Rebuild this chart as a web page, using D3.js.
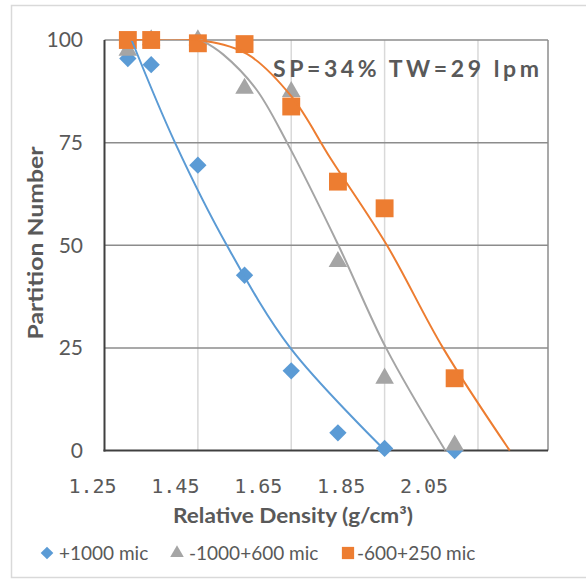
<!DOCTYPE html>
<html>
<head>
<meta charset="utf-8">
<script src="https://cdn.jsdelivr.net/npm/d3@7"></script>
<style>
  body { margin: 0; background: #fff; }
  svg { display: block; }
</style>
</head>
<body>
<svg width="586" height="580"></svg>
<script>
// data
const density = [1.30, 1.35, 1.45, 1.55, 1.65, 1.75, 1.85, 2.00];
const plus1000 = [95.5, 94, 69.5, 42.7, 19.4, 4.3, 0.5, 0];
const minus1000plus600 = [97.5, 100, 100, 88.2, 87.4, 46, 17.6, 1.3];
const minus600plus250 = [100, 100, 99.2, 99, 83.8, 65.5, 59, 17.6];

// trendline points [density, partition]
const trendBlue = [[1.308, 100], [1.401, 75], [1.512, 50], [1.648, 25], [1.851, 0]];
const trendGray = [[1.45, 100.5], [1.504, 96.5], [1.575, 88], [1.641, 75], [1.751, 50], [1.853, 25], [1.98, 0]];
const trendOrange = [[1.307, 100], [1.451, 100], [1.555, 96.6], [1.65, 86.3], [1.735, 71], [1.855, 50], [1.975, 25], [2.118, 0]];

const xTicks = [1.25, 1.45, 1.65, 1.85, 2.05];
const yTicks = [0, 25, 50, 75, 100];
const seriesNames = ["+1000 mic", "-1000+600 mic", "-600+250 mic"];
const colors = ["#5B9BD5", "#A5A5A5", "#ED7D31"];

const svg = d3.select("svg");

// outer chart border
svg.append("rect")
    .attr("x", 11.5).attr("y", 5.5)
    .attr("width", 600).attr("height", 572)
    .attr("fill", "none")
    .attr("stroke", "#d9d9d9")
    .attr("stroke-width", 1.5);

const x = d3.scaleLinear().domain([1.25, 2.2]).range([104.5, 548]);
const y = d3.scaleLinear().domain([0, 100]).range([450.5, 40]);
// tick labels sit a little left of their gridlines in the original
const xLab = d3.scaleLinear().domain([1.25, 2.05]).range([92.5, 424]);

// plot clip so trendlines stay inside
svg.append("clipPath").attr("id", "plot")
    .append("rect")
    .attr("x", x(1.25)).attr("y", y(100) - 1)
    .attr("width", x(2.2) - x(1.25)).attr("height", y(0) - y(100) + 2);

// vertical gridlines
svg.append("g")
    .selectAll("line")
    .data(xTicks.slice(1))
    .join("line")
    .attr("x1", d => x(d)).attr("x2", d => x(d))
    .attr("y1", y(100)).attr("y2", y(0))
    .attr("stroke", "#d9d9d9")
    .attr("stroke-width", 1.5);

// horizontal gridlines
svg.append("g")
    .selectAll("line")
    .data(yTicks.slice(1))
    .join("line")
    .attr("x1", x(1.25)).attr("x2", x(2.2))
    .attr("y1", d => y(d)).attr("y2", d => y(d))
    .attr("stroke", "#8c8c8c")
    .attr("stroke-width", 1.5);

// right border of plot
svg.append("line")
    .attr("x1", x(2.2)).attr("x2", x(2.2))
    .attr("y1", y(100)).attr("y2", y(0))
    .attr("stroke", "#8c8c8c")
    .attr("stroke-width", 1.5);

// axes lines
svg.append("line")
    .attr("x1", x(1.25)).attr("x2", x(1.25))
    .attr("y1", y(100)).attr("y2", y(0) + 1)
    .attr("stroke", "#404040").attr("stroke-width", 2);
svg.append("line")
    .attr("x1", x(1.25) - 1).attr("x2", x(2.2))
    .attr("y1", y(0)).attr("y2", y(0))
    .attr("stroke", "#404040").attr("stroke-width", 2);

// y tick labels
svg.append("g")
    .selectAll("text")
    .data(yTicks)
    .join("text")
    .attr("x", 83)
    .attr("y", d => y(d))
    .attr("dy", "0.35em")
    .attr("text-anchor", "end")
    .attr("font-family", "Lato, 'Open Sans', sans-serif")
    .attr("font-size", 21)
    .attr("fill", "#595959")
    .text(d => d);

// x tick labels
svg.append("g")
    .selectAll("text")
    .data(xTicks)
    .join("text")
    .attr("x", d => xLab(d))
    .attr("y", 493)
    .attr("text-anchor", "middle")
    .attr("font-family", "'DejaVu Sans Mono', monospace")
    .attr("font-size", 20)
    .attr("fill", "#595959")
    .text(d => d.toFixed(2));

// axis titles
svg.append("text")
    .attr("x", 293).attr("y", 523)
    .attr("text-anchor", "middle")
    .attr("font-family", "Lato, 'Open Sans', sans-serif")
    .attr("font-weight", "bold")
    .attr("font-size", 20)
    .attr("fill", "#595959")
    .attr("textLength", 240)
    .attr("lengthAdjust", "spacingAndGlyphs")
    .text("Relative Density (g/cm³)");

svg.append("text")
    .attr("transform", "translate(43,243) rotate(-90)")
    .attr("text-anchor", "middle")
    .attr("font-family", "Lato, 'Open Sans', sans-serif")
    .attr("font-weight", "bold")
    .attr("font-size", 20)
    .attr("fill", "#595959")
    .attr("textLength", 193)
    .attr("lengthAdjust", "spacingAndGlyphs")
    .text("Partition Number");

// annotation
svg.append("text")
    .attr("x", 273).attr("y", 76.5)
    .attr("font-family", "Lato, 'Open Sans', sans-serif")
    .attr("font-weight", "bold")
    .attr("font-size", 23)
    .attr("fill", "#595959")
    .attr("textLength", 266)
    .attr("lengthAdjust", "spacing")
    .text("SP=34% TW=29 lpm");

// markers
const symbols = [d3.symbolSquare, d3.symbolTriangle, d3.symbolSquare];
const rotations = [45, 0, 0];
const sizes = [150, 150, 320];
const allSeries = [plus1000, minus1000plus600, minus600plus250];

allSeries.forEach((vals, i) => {
    svg.append("g")
        .selectAll("path")
        .data(vals)
        .join("path")
        .attr("transform", (d, j) => `translate(${x(density[j])},${y(d)}) rotate(${rotations[i]})`)
        .attr("d", d3.symbol().type(symbols[i]).size(sizes[i]))
        .attr("fill", colors[i]);
});

// trendlines
const line = d3.line()
    .x(d => x(d[0]))
    .y(d => y(d[1]))
    .curve(d3.curveCatmullRom.alpha(0.5));

[trendBlue, trendGray, trendOrange].forEach((pts, i) => {
    svg.append("path")
        .datum(pts)
        .attr("d", line)
        .attr("clip-path", "url(#plot)")
        .attr("fill", "none")
        .attr("stroke", colors[i])
        .attr("stroke-width", 2);
});

// legend
const legX = [47, 177, 348];
const legend = svg.append("g");
seriesNames.forEach((name, i) => {
    legend.append("path")
        .attr("transform", `translate(${legX[i]},${553}) rotate(${rotations[i]})`)
        .attr("d", d3.symbol().type(symbols[i]).size(i === 2 ? 150 : 80))
        .attr("fill", colors[i]);
    legend.append("text")
        .attr("x", legX[i] + (i === 2 ? 9 : 12))
        .attr("y", 560)
        .attr("font-family", "Lato, 'Open Sans', sans-serif")
        .attr("font-size", 19)
        .attr("fill", "#595959")
        .text(name);
});
</script>
</body>
</html>
